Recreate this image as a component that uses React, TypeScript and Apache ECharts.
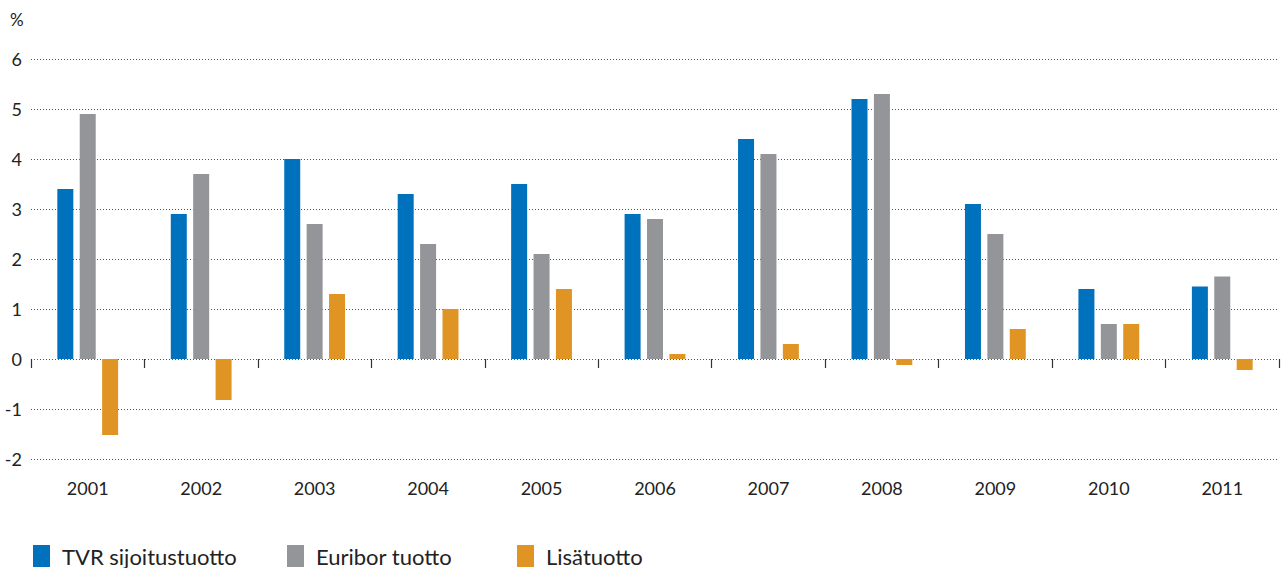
import React, { useEffect, useRef } from "react";
import * as echarts from "echarts";

const years = ["2001", "2002", "2003", "2004", "2005", "2006", "2007", "2008", "2009", "2010", "2011"];
const tvr = [3.4, 2.9, 4.0, 3.3, 3.5, 2.9, 4.4, 5.2, 3.1, 1.4, 1.45];
const euribor = [4.9, 3.7, 2.7, 2.3, 2.1, 2.8, 4.1, 5.3, 2.5, 0.7, 1.65];
const lisa = [-1.52, -0.82, 1.3, 1.0, 1.4, 0.1, 0.3, -0.12, 0.6, 0.7, -0.22];
const seriesNames = ["TVR sijoitustuotto", "Euribor tuotto", "Lisätuotto"];
const colors = ["#0071BC", "#939598", "#E09424"];
const legendLefts = [33, 287, 517];

const FONT = "Lato, 'Open Sans', sans-serif";

export default function App() {
  const ref = useRef<HTMLDivElement>(null);
  useEffect(() => {
    if (!ref.current) return;
    const chart = echarts.init(ref.current, null, { renderer: "svg" });
    const data = [tvr, euribor, lisa];
    chart.setOption({
      animation: false,
      textStyle: { fontFamily: FONT },
      grid: { left: 31, right: 3, top: 59, bottom: 109, containLabel: false },
      legend: seriesNames.map((name, i) => ({
        left: legendLefts[i],
        top: 545,
        padding: 0,
        itemWidth: 17,
        itemHeight: 22,
        icon: "rect",
        textStyle: { fontFamily: FONT, fontSize: 22, color: "#222", padding: [0, 0, 0, 7] },
        data: [name],
      })),
      graphic: [
        {
          type: "text",
          left: 10,
          top: 11,
          style: { text: "%", fontFamily: FONT, fontSize: 17, fill: "#222" },
        },
      ],
      xAxis: {
        type: "category",
        data: years,
        boundaryGap: true,
        axisLine: { show: false },
        axisTick: { show: true, length: 9, lineStyle: { color: "#333", width: 1.2 } },
        axisLabel: { fontSize: 18, color: "#222", margin: 20, fontFamily: FONT },
        splitLine: { show: false },
      },
      yAxis: {
        type: "value",
        min: -2,
        max: 6,
        interval: 1,
        axisLine: { show: false },
        axisTick: { show: false },
        axisLabel: { fontSize: 18, color: "#222", margin: 9, fontFamily: FONT },
        splitLine: { show: true, lineStyle: { color: "#555", width: 1, type: [1, 2] } },
      },
      series: seriesNames.map((name, i) => ({
        name,
        type: "bar",
        data: data[i],
        barWidth: 16,
        barGap: "40%",
        itemStyle: { color: colors[i] },
      })),
    });
    return () => chart.dispose();
  }, []);
  return (
    <div
      ref={ref}
      style={{ position: "fixed", left: 0, top: 0, width: 1282, height: 568, background: "#fff" }}
    />
  );
}
